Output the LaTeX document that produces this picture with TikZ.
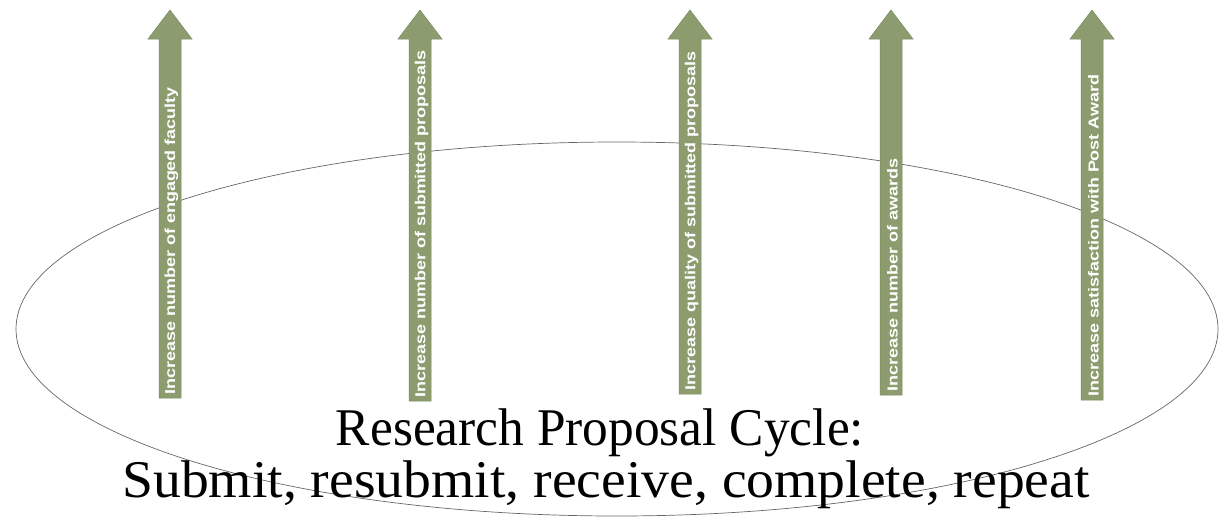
\documentclass[tikz,border=0pt]{standalone}
\usepackage{fontspec}
\setmainfont{Liberation Serif}
\newfontfamily\labfont{Liberation Sans}
\definecolor{arrowgreen}{HTML}{8C9C6E}
\definecolor{arrowedge}{HTML}{7A8A5E}
\begin{document}
\begin{tikzpicture}[x=1pt,y=-1pt,
  goal/.style={fill=arrowgreen,draw=arrowedge,line width=0.5pt},
  goaltext/.style={rotate=90,anchor=west,text=white,inner sep=0pt,
    font=\labfont\bfseries\fontsize{14.5}{14.5}\selectfont},
  titletext/.style={anchor=base,inner sep=0pt,font=\fontsize{53}{60}\selectfont},
  cycle/.style={draw=black!60,line width=0.7pt}]
\useasboundingbox (0,0) rectangle (1220,517);
\draw[cycle] (617,329) ellipse [x radius=601,y radius=187];
\foreach \n/\cx/\by/\t in {a/170/398/{Increase number of engaged faculty},
  b/420/401/{Increase number of submitted proposals},
  c/690/394/{Increase quality of submitted proposals},
  d/891/395/{Increase number of awards},
  e/1092/400/{Increase satisfaction with Post Award}}{
  \fill[goal] (\cx-11,\by) -- (\cx-11,39) -- (\cx-22,39) -- (\cx,10) -- (\cx+22,39) -- (\cx+11,39) -- (\cx+11,\by) -- cycle;
  \node[goaltext] (\n) at (\cx+1.5,\by-3) {\scalebox{1.24}[1]{\t}};
}
\node[titletext] (title1) at (600,445) {\scalebox{0.97}[1]{Research Proposal Cycle:}};
\node[titletext] (title2) at (606,497) {\scalebox{1.05}[1]{Submit, resubmit, receive, complete, repeat}};
\end{tikzpicture}
\end{document}
